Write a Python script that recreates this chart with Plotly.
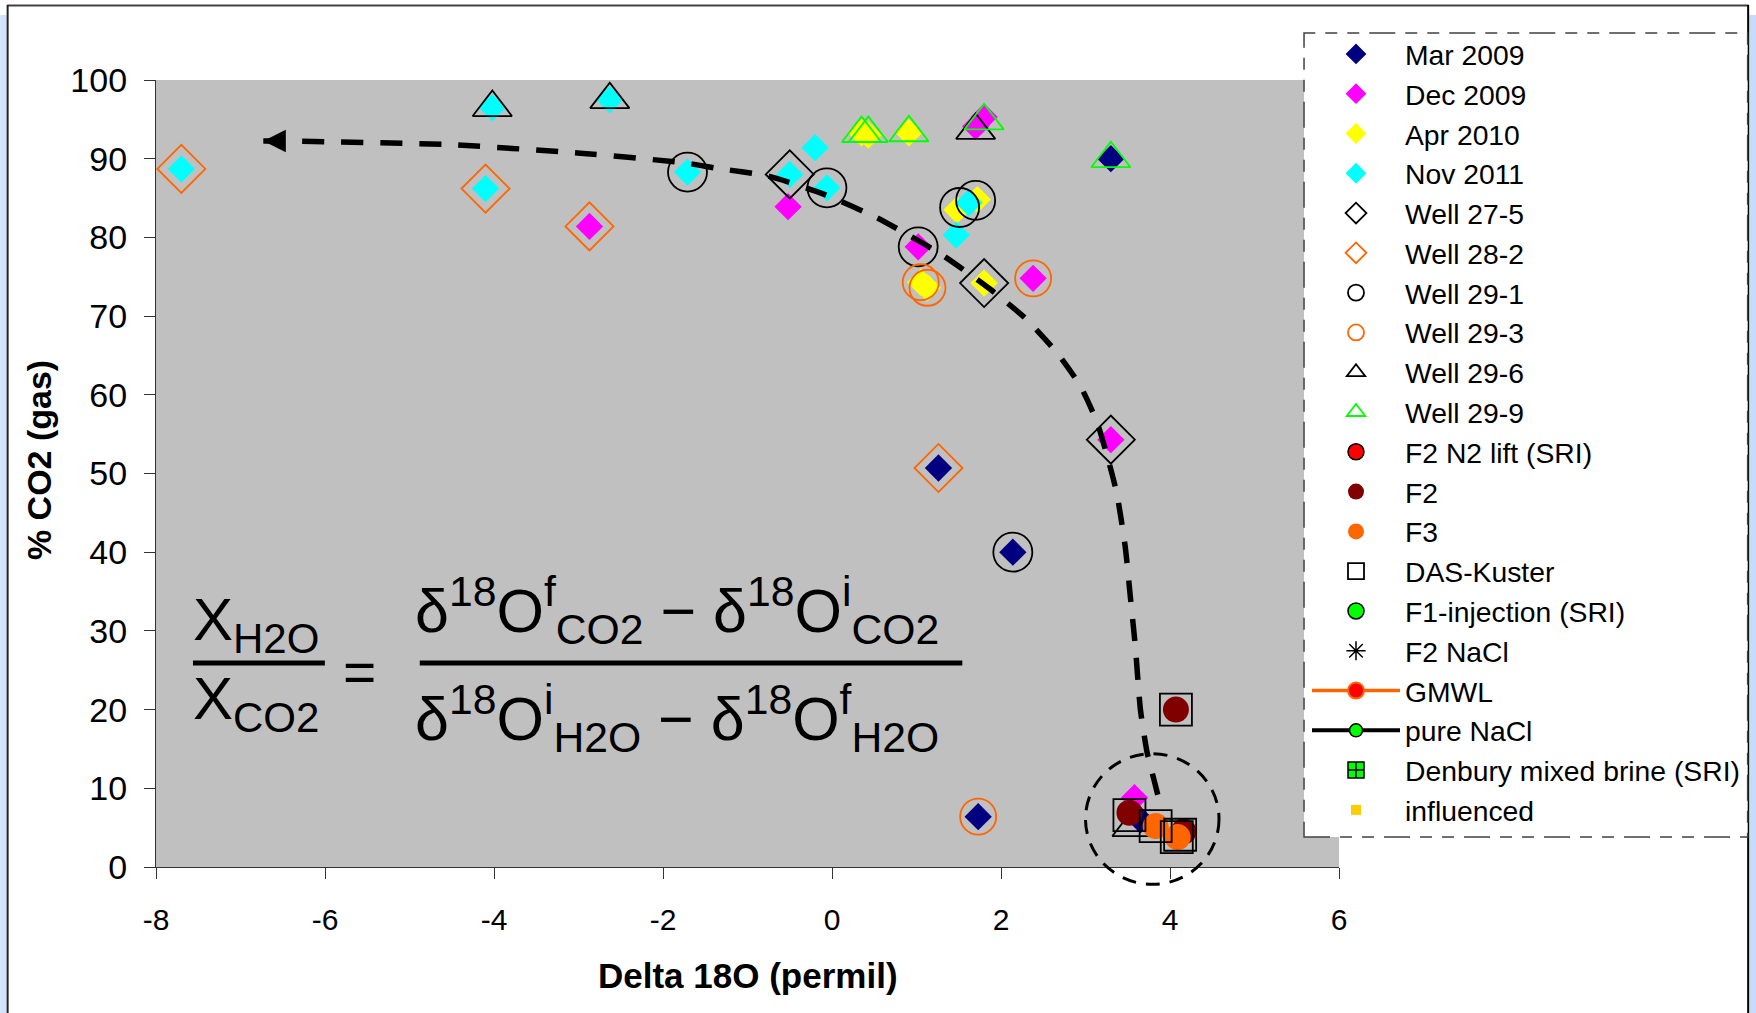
import plotly.graph_objects as go

# ---------------- data ----------------
mar2009_x = [3.30, 1.26, 2.14, 1.73, 3.65]
mar2009_y = [90.0, 50.7, 40.0, 6.4, 6.0]

dec2009_x = [-2.87, -0.52, 1.02, 1.70, 1.80, 2.38, 3.30, 3.58]
dec2009_y = [81.4, 83.9, 78.8, 94.1, 95.3, 74.8, 54.3, 8.8]

apr2010_x = [0.35, 0.43, 0.91, 1.05, 1.13, 1.48, 1.72, 1.80]
apr2010_y = [93.3, 93.0, 93.3, 74.3, 73.6, 83.5, 84.8, 74.2]

nov2011_x = [-7.70, -4.02, -4.10, -2.63, -1.71, -0.50, -0.20, -0.06, 1.62, 1.47]
nov2011_y = [88.7, 96.5, 86.2, 97.5, 88.3, 88.0, 91.4, 86.3, 84.4, 80.3]

well275_x = [-0.50, 1.80, 3.30]
well275_y = [88.0, 74.2, 54.3]

well282_x = [-7.70, -4.10, -2.87, 1.26]
well282_y = [88.7, 86.2, 81.4, 50.7]

well291_x = [-1.71, -0.06, 1.02, 1.51, 1.70, 2.14]
well291_y = [88.3, 86.3, 78.8, 83.8, 84.7, 40.0]

well293_x = [1.05, 1.13, 2.38, 1.73]
well293_y = [74.3, 73.6, 74.8, 6.4]

well296_x = [-4.02, -2.63, 1.70, 3.55]
well296_y = [96.5, 97.5, 93.6, 5.0]

well299_x = [0.35, 0.43, 0.91, 1.80, 3.30]
well299_y = [93.2, 93.2, 93.3, 94.8, 90.0]

f2_x = [4.07, 3.52, 4.16]
f2_y = [20.0, 6.9, 4.5]

f3_x = [3.83, 4.09]
f3_y = [5.2, 3.8]

das_x = [4.07, 3.52, 3.83, 4.08, 4.12]
das_y = [20.0, 6.6, 5.2, 3.8, 4.1]

# hand-drawn mixing curve (dashed, with arrow at the left end)
curve_x = [-6.73, -6.54, -4.56, -2.98, -1.73, -1.37, -0.74, -0.10, 0.53, 1.27,
           1.85, 2.28, 2.65, 2.94, 3.14, 3.28, 3.37, 3.47, 3.53, 3.59, 3.65,
           3.73, 3.81, 3.87]
curve_y = [92.25, 92.25, 91.8, 90.7, 89.45, 88.8, 87.75, 85.5, 82.5, 78.0,
           73.6, 69.8, 65.5, 61.1, 56.4, 51.3, 47.5, 40.7, 34.4, 28.0, 20.0,
           14.5, 11.1, 8.55]

# dashed circle around the brine cluster (data units)
circle_cx, circle_cy = 3.79, 6.1
circle_rx, circle_ry = 0.79, 8.3

x_range = [-8, 6]
y_range = [0, 100]
x_ticks = [-8, -6, -4, -2, 0, 2, 4, 6]
x_ticklabels = ["-8", "-6", "-4", "-2", "0", "2", "4", "6"]
y_ticks = [0, 10, 20, 30, 40, 50, 60, 70, 80, 90, 100]

# ---------------- layout geometry ----------------
W, H = 1756, 1013
PL, PR, PT, PB = 156, 1340, 80, 867
FONT = "Liberation Sans, Arial, sans-serif"


def px_x(p):
    return (p - PL) / (PR - PL)


def px_y(p):
    return (PB - p) / (PB - PT)


def dx_paper(x):
    return (x - x_range[0]) / (x_range[1] - x_range[0])


def dy_paper(y):
    return (y - y_range[0]) / (y_range[1] - y_range[0])


fig = go.Figure()


def add(name, x, y, symbol, color, size, line_color=None, line_width=0, mode="markers", line=None):
    marker = dict(symbol=symbol, color=color, size=size)
    if line_color is not None or line_width:
        marker["line"] = dict(color=line_color if line_color else color, width=line_width)
    kw = dict(x=x, y=y, name=name, mode=mode, marker=marker)
    if line is not None:
        kw["line"] = line
    fig.add_trace(go.Scatter(**kw))


add("Mar 2009", mar2009_x, mar2009_y, "diamond", "#000080", 21)
add("Dec 2009", dec2009_x, dec2009_y, "diamond", "#ff00ff", 21)
add("Apr 2010", apr2010_x, apr2010_y, "diamond", "#ffff00", 21)
add("Nov 2011", nov2011_x, nov2011_y, "diamond", "#00ffff", 21)
add("Well 27-5", well275_x, well275_y, "diamond-open", "#000000", 37, line_width=1.8)
add("Well 28-2", well282_x, well282_y, "diamond-open", "#ff6600", 37, line_width=1.8)
add("Well 29-1", well291_x, well291_y, "circle-open", "#000000", 39, line_width=1.8)
add("Well 29-3", well293_x, well293_y, "circle-open", "#ff6600", 36, line_width=1.8)
add("Well 29-6", well296_x, well296_y, "triangle-up-open", "#000000", 34, line_width=1.8)
add("Well 29-9", well299_x, well299_y, "triangle-up-open", "#00ff00", 34, line_width=1.8)
add("F2 N2 lift (SRI)", [None], [None], "circle", "#ff0000", 16, "#000000", 1.5)
add("F2", f2_x, f2_y, "circle", "#800000", 26)
add("F3", f3_x, f3_y, "circle", "#ff6600", 26)
add("DAS-Kuster", das_x, das_y, "square-open", "#000000", 32, line_width=1.8)
add("F1-injection (SRI)", [None], [None], "circle", "#00ff00", 16, "#000000", 1.5)
add("F2 NaCl", [None], [None], "asterisk-open", "#000000", 16, line_width=1.5)
add("GMWL", [None], [None], "circle", "#ff0000", 16, "#ff6600", 2, mode="lines+markers",
    line=dict(color="#ff6600", width=3.5))
add("pure NaCl", [None], [None], "circle", "#00ff00", 13, "#000000", 1.5, mode="lines+markers",
    line=dict(color="#000000", width=4))
add("Denbury mixed brine (SRI)", [None], [None], "square-cross", "#00ff00", 16, "#000000", 1.5)
add("influenced", [None], [None], "square", "#ffcc00", 10)

# dashed mixing curve
fig.add_trace(go.Scatter(x=curve_x, y=curve_y, mode="lines", showlegend=False,
                         line=dict(color="#000000", width=5.5, dash="22px,17px",
                                   shape="spline", smoothing=0.6),
                         hoverinfo="skip"))

shapes = []
# outer frame / blue side strips
shapes.append(dict(type="rect", xref="paper", yref="paper", x0=px_x(0), x1=px_x(6.5),
                   y0=px_y(H + 5), y1=px_y(15), fillcolor="#d2e3f9", line=dict(width=0), layer="below"))
shapes.append(dict(type="rect", xref="paper", yref="paper", x0=px_x(1750.5), x1=px_x(W + 2),
                   y0=px_y(H + 5), y1=px_y(15), fillcolor="#c6dcf8", line=dict(width=0), layer="below"))
shapes.append(dict(type="line", xref="paper", yref="paper", x0=px_x(7), x1=px_x(1750),
                   y0=px_y(5.5), y1=px_y(5.5), line=dict(color="#404040", width=2.2), layer="below"))
shapes.append(dict(type="line", xref="paper", yref="paper", x0=px_x(7.5), x1=px_x(7.5),
                   y0=px_y(5), y1=px_y(H + 5), line=dict(color="#202020", width=2), layer="below"))
shapes.append(dict(type="line", xref="paper", yref="paper", x0=px_x(1749.5), x1=px_x(1749.5),
                   y0=px_y(5), y1=px_y(H + 5), line=dict(color="#000000", width=2), layer="below"))

# legend box (dashed)
shapes.append(dict(type="rect", xref="paper", yref="paper", x0=px_x(1305), x1=px_x(1749),
                   y0=px_y(837), y1=px_y(33), fillcolor="#ffffff",
                   line=dict(color="#404040", width=1.5, dash="26px,10px,12px,10px,12px,10px"),
                   layer="above"))

# dashed circle around brine cluster
shapes.append(dict(type="circle", xref="paper", yref="paper",
                   x0=dx_paper(circle_cx - circle_rx), x1=dx_paper(circle_cx + circle_rx),
                   y0=dy_paper(circle_cy - circle_ry), y1=dy_paper(circle_cy + circle_ry),
                   line=dict(color="#000000", width=3, dash="14px,10px"), layer="above"))

# formula fraction bars
shapes.append(dict(type="line", xref="paper", yref="paper", x0=px_x(193), x1=px_x(325),
                   y0=px_y(663), y1=px_y(663), line=dict(color="#000000", width=5), layer="above"))
shapes.append(dict(type="line", xref="paper", yref="paper", x0=px_x(420), x1=px_x(963),
                   y0=px_y(663), y1=px_y(663), line=dict(color="#000000", width=5), layer="above"))

annotations = []
# arrow head at the left end of the curve
annotations.append(dict(x=curve_x[0], y=curve_y[0], ax=curve_x[1], ay=curve_y[1],
                        xref="x", yref="y", axref="x", ayref="y", text="", showarrow=True,
                        arrowhead=2, arrowsize=1.8, arrowwidth=2.5, arrowcolor="#000000"))

fsz = 61
annotations.append(dict(xref="paper", yref="paper", x=px_x(191), y=px_y(624), xanchor="left",
                        yanchor="middle", showarrow=False,
                        text="X<sub>H2O</sub>", font=dict(family=FONT, size=60, color="#000")))
annotations.append(dict(xref="paper", yref="paper", x=px_x(191), y=px_y(703), xanchor="left",
                        yanchor="middle", showarrow=False,
                        text="X<sub>CO2</sub>", font=dict(family=FONT, size=60, color="#000")))
annotations.append(dict(xref="paper", yref="paper", x=px_x(360), y=px_y(672), xanchor="center",
                        yanchor="middle", showarrow=False,
                        text="=", font=dict(family=FONT, size=57, color="#000")))
annotations.append(dict(xref="paper", yref="paper", x=px_x(677), y=px_y(610), xanchor="center",
                        yanchor="middle", showarrow=False,
                        text="δ<sup>18</sup>O<sup>f</sup><sub>CO2</sub> − δ<sup>18</sup>O<sup>i</sup><sub>CO2</sub>",
                        font=dict(family=FONT, size=fsz, color="#000")))
annotations.append(dict(xref="paper", yref="paper", x=px_x(677), y=px_y(718), xanchor="center",
                        yanchor="middle", showarrow=False,
                        text="δ<sup>18</sup>O<sup>i</sup><sub>H2O</sub> − δ<sup>18</sup>O<sup>f</sup><sub>H2O</sub>",
                        font=dict(family=FONT, size=fsz, color="#000")))

# axis titles
annotations.append(dict(xref="paper", yref="paper", x=0.5, y=px_y(975), xanchor="center",
                        yanchor="middle", showarrow=False, text="<b>Delta 18O (permil)</b>",
                        font=dict(family=FONT, size=35, color="#000")))
annotations.append(dict(xref="paper", yref="paper", x=px_x(39), y=px_y(460), xanchor="center",
                        yanchor="middle", showarrow=False, text="<b>% CO2 (gas)</b>", textangle=-90,
                        font=dict(family=FONT, size=34, color="#000")))

fig.update_layout(
    width=W, height=H,
    margin=dict(l=PL, r=W - PR, t=PT, b=H - PB, pad=0),
    paper_bgcolor="#ffffff",
    plot_bgcolor="#c0c0c0",
    font=dict(family=FONT, color="#000000"),
    shapes=shapes,
    annotations=annotations,
    showlegend=True,
    legend=dict(x=px_x(1307), y=px_y(29), xanchor="left", yanchor="top",
                bgcolor="rgba(0,0,0,0)", borderwidth=0, tracegroupgap=0,
                font=dict(family=FONT, size=28.3, color="#000000"),
                itemsizing="trace", itemwidth=88, maxheight=1000),
)

fig.update_xaxes(range=x_range, tickvals=x_ticks, ticktext=x_ticklabels, showgrid=False, zeroline=False,
                 showline=True, linecolor="#333333", linewidth=1.3,
                 ticks="outside", ticklen=11, tickwidth=1.3, tickcolor="#333333",
                 ticklabelstandoff=15,
                 tickfont=dict(family=FONT, size=30, color="#000"))
fig.update_yaxes(range=y_range, tickvals=y_ticks, showgrid=False, zeroline=False,
                 showline=True, linecolor="#333333", linewidth=1.3,
                 ticks="outside", ticklen=11, tickwidth=1.3, tickcolor="#333333",
                 ticklabelstandoff=10,
                 tickfont=dict(family=FONT, size=34, color="#000"))

fig.write_html("out.html")
